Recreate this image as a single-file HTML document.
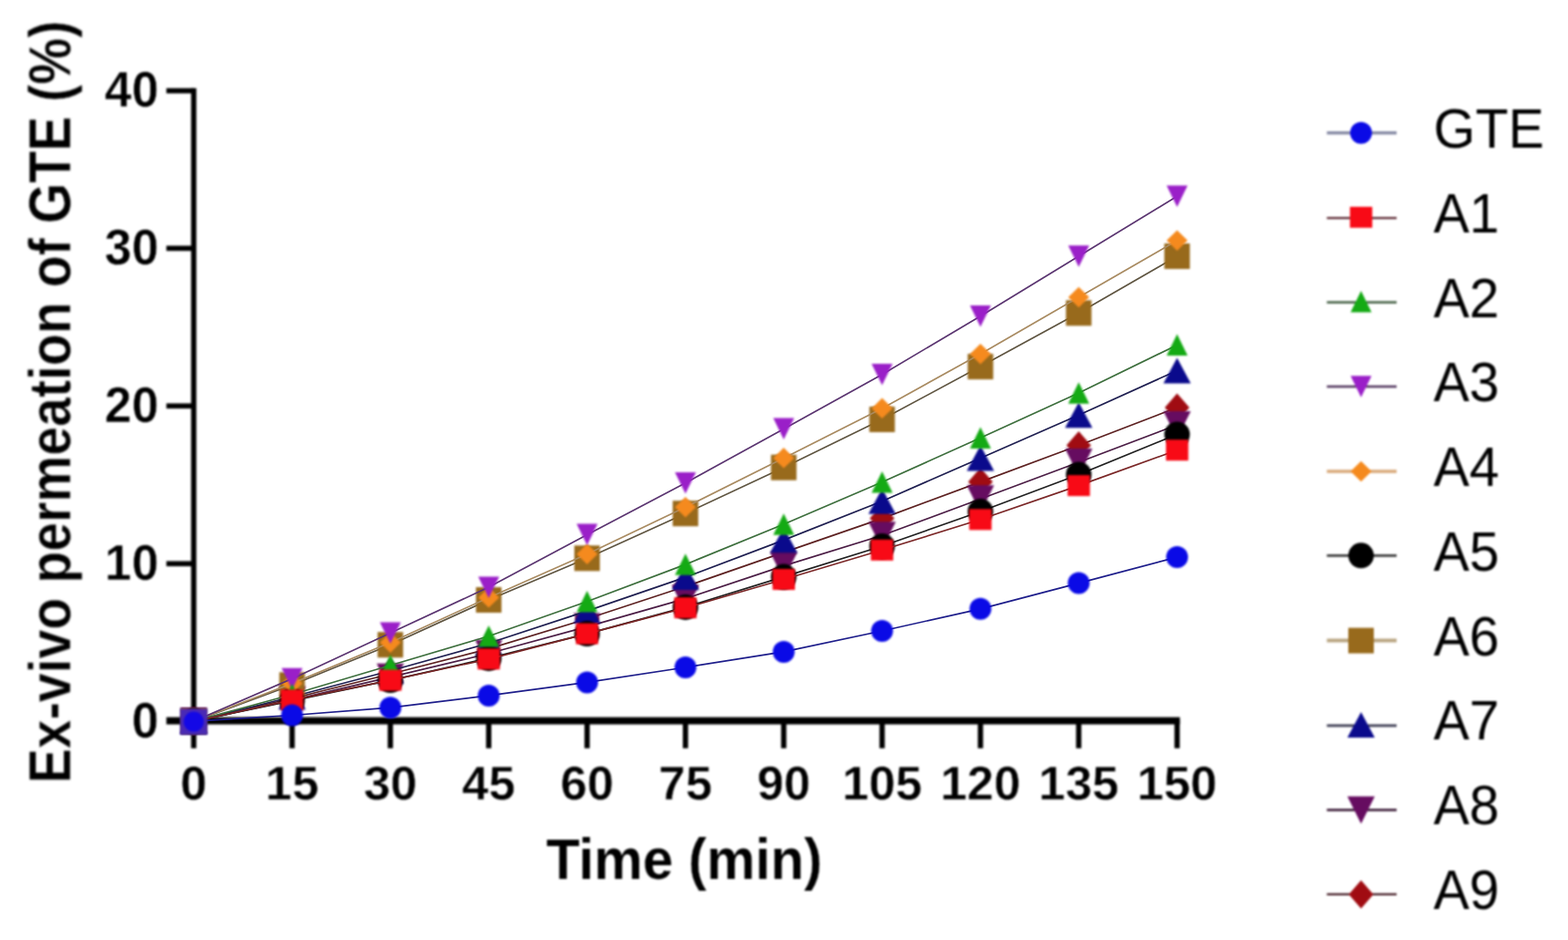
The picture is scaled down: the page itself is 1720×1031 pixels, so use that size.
<!DOCTYPE html>
<html lang="en">
<head>
<meta charset="utf-8">
<title>Ex-vivo permeation of GTE</title>
<style>
html,body{margin:0;padding:0;background:#fff;}
body{width:1720px;height:1031px;overflow:hidden;}
svg{display:block;}
.b{filter:blur(0.9px);}
.ln{fill:none;stroke-width:1.7px;filter:blur(0.45px);}
.mk{filter:blur(0.8px);}
text{font-family:"Liberation Sans",Arial,Helvetica,sans-serif;fill:#000;}
.tick,.xtick,.title,.ytitle{font-weight:bold;stroke:#fff;stroke-width:0.5px;stroke-linejoin:round;}
.title{stroke-width:0.2px;}
.tick{font-size:53.2px;}
.xtick{font-size:52.7px;}
.title{font-size:60.3px;}
.ytitle{font-size:61.8px;}
.leg{font-size:59px;}
</style>
</head>
<body>
<svg width="1720" height="1031" viewBox="0 0 1720 1031">
<rect width="1720" height="1031" fill="#fff"/>

<g id="axes" class="b" fill="#000">
<rect x="209.6" y="96.7" width="5.8" height="697.8"/>
<rect x="182.5" y="786.6" width="1111.8" height="7.9"/>
<rect x="182.5" y="615.4" width="30" height="5.7"/>
<rect x="182.5" y="442.4" width="30" height="5.7"/>
<rect x="182.5" y="269.5" width="30" height="5.7"/>
<rect x="182.5" y="96.7" width="30" height="5.7"/>
<rect x="209.6" y="790" width="5.8" height="30.7"/>
<rect x="317.5" y="790" width="5.8" height="30.7"/>
<rect x="425.3" y="790" width="5.8" height="30.7"/>
<rect x="533.2" y="790" width="5.8" height="30.7"/>
<rect x="641.1" y="790" width="5.8" height="30.7"/>
<rect x="749" y="790" width="5.8" height="30.7"/>
<rect x="856.8" y="790" width="5.8" height="30.7"/>
<rect x="964.7" y="790" width="5.8" height="30.7"/>
<rect x="1072.6" y="790" width="5.8" height="30.7"/>
<rect x="1180.4" y="790" width="5.8" height="30.7"/>
<rect x="1288.3" y="790" width="5.8" height="30.7"/>
</g>
<g id="labels" class="b">
<g id="yticks">
<text class="tick" transform="translate(174 808.7) scale(1 1.03)" text-anchor="end">0</text>
<text class="tick" transform="translate(174 635.8) scale(1 1.03)" text-anchor="end">10</text>
<text class="tick" transform="translate(174 462.9) scale(1 1.03)" text-anchor="end">20</text>
<text class="tick" transform="translate(174 290) scale(1 1.03)" text-anchor="end">30</text>
<text class="tick" transform="translate(174 117.1) scale(1 1.03)" text-anchor="end">40</text>
</g>
<g id="xticks">
<text class="xtick" transform="translate(212.5 877.2)" text-anchor="middle">0</text>
<text class="xtick" transform="translate(320.4 877.2)" text-anchor="middle">15</text>
<text class="xtick" transform="translate(428.2 877.2)" text-anchor="middle">30</text>
<text class="xtick" transform="translate(536.1 877.2)" text-anchor="middle">45</text>
<text class="xtick" transform="translate(644 877.2)" text-anchor="middle">60</text>
<text class="xtick" transform="translate(751.9 877.2)" text-anchor="middle">75</text>
<text class="xtick" transform="translate(859.7 877.2)" text-anchor="middle">90</text>
<text class="xtick" transform="translate(967.6 877.2)" text-anchor="middle">105</text>
<text class="xtick" transform="translate(1075.5 877.2)" text-anchor="middle">120</text>
<text class="xtick" transform="translate(1183.3 877.2)" text-anchor="middle">135</text>
<text class="xtick" transform="translate(1291.2 877.2)" text-anchor="middle">150</text>
</g>
<text class="title" transform="translate(750.6 964.4) scale(0.997 1.05)" text-anchor="middle">Time (min)</text>
<text class="ytitle" transform="translate(77.6 441) rotate(-90) scale(0.9265 1.06)" text-anchor="middle">Ex-vivo permeation of GTE (%)</text>
</g>
<g id="plot">
<polyline class="ln" points="212.5,791.1 320.4,766 428.2,739.2 536.1,711.6 644,678.7 751.9,643.3 859.7,605.9 967.6,568.6 1075.5,528.6 1183.3,488.5 1291.2,447" stroke="#5c2020"/>
<g class="mk">
<polygon points="212.5,775.6 226,791.1 212.5,806.6 199,791.1" fill="#a00c12"/>
<polygon points="320.4,750.5 333.9,766 320.4,781.5 306.9,766" fill="#a00c12"/>
<polygon points="428.2,723.7 441.7,739.2 428.2,754.7 414.7,739.2" fill="#a00c12"/>
<polygon points="536.1,696.1 549.6,711.6 536.1,727.1 522.6,711.6" fill="#a00c12"/>
<polygon points="644,663.2 657.5,678.7 644,694.2 630.5,678.7" fill="#a00c12"/>
<polygon points="751.9,627.8 765.4,643.3 751.9,658.8 738.4,643.3" fill="#a00c12"/>
<polygon points="859.7,590.4 873.2,605.9 859.7,621.4 846.2,605.9" fill="#a00c12"/>
<polygon points="967.6,553.1 981.1,568.6 967.6,584.1 954.1,568.6" fill="#a00c12"/>
<polygon points="1075.5,513.1 1089,528.6 1075.5,544.1 1062,528.6" fill="#a00c12"/>
<polygon points="1183.3,473 1196.8,488.5 1183.3,504 1169.8,488.5" fill="#a00c12"/>
<polygon points="1291.2,431.5 1304.7,447 1291.2,462.5 1277.7,447" fill="#a00c12"/>
</g>
<polyline class="ln" points="212.5,791.1 320.4,767.8 428.2,742.7 536.1,716.8 644,687.4 751.9,656.6 859.7,620.6 967.6,587.3 1075.5,547.3 1183.3,507 1291.2,466" stroke="#4a1c44"/>
<g class="mk">
<polygon points="197.5,776.1 227.5,776.1 212.5,806.1" fill="#660c60"/>
<polygon points="305.4,752.8 335.4,752.8 320.4,782.8" fill="#660c60"/>
<polygon points="413.2,727.7 443.2,727.7 428.2,757.7" fill="#660c60"/>
<polygon points="521.1,701.8 551.1,701.8 536.1,731.8" fill="#660c60"/>
<polygon points="629,672.4 659,672.4 644,702.4" fill="#660c60"/>
<polygon points="736.9,641.6 766.9,641.6 751.9,671.6" fill="#660c60"/>
<polygon points="844.7,605.6 874.7,605.6 859.7,635.6" fill="#660c60"/>
<polygon points="952.6,572.3 982.6,572.3 967.6,602.3" fill="#660c60"/>
<polygon points="1060.5,532.3 1090.5,532.3 1075.5,562.3" fill="#660c60"/>
<polygon points="1168.3,492 1198.3,492 1183.3,522" fill="#660c60"/>
<polygon points="1276.2,451 1306.2,451 1291.2,481" fill="#660c60"/>
</g>
<polyline class="ln" points="212.5,791.1 320.4,764.3 428.2,735.8 536.1,705.5 644,670.1 751.9,633.1 859.7,592.4 967.6,549.7 1075.5,502.5 1183.3,455.3 1291.2,406.4" stroke="#1e1e50"/>
<g class="mk">
<polygon points="212.5,777.1 227.5,805.1 197.5,805.1" fill="#0a0a8c"/>
<polygon points="320.4,750.3 335.4,778.3 305.4,778.3" fill="#0a0a8c"/>
<polygon points="428.2,721.8 443.2,749.8 413.2,749.8" fill="#0a0a8c"/>
<polygon points="536.1,691.5 551.1,719.5 521.1,719.5" fill="#0a0a8c"/>
<polygon points="644,656.1 659,684.1 629,684.1" fill="#0a0a8c"/>
<polygon points="751.9,619.1 766.9,647.1 736.9,647.1" fill="#0a0a8c"/>
<polygon points="859.7,578.4 874.7,606.4 844.7,606.4" fill="#0a0a8c"/>
<polygon points="967.6,535.7 982.6,563.7 952.6,563.7" fill="#0a0a8c"/>
<polygon points="1075.5,488.5 1090.5,516.5 1060.5,516.5" fill="#0a0a8c"/>
<polygon points="1183.3,441.3 1198.3,469.3 1168.3,469.3" fill="#0a0a8c"/>
<polygon points="1291.2,392.4 1306.2,420.4 1276.2,420.4" fill="#0a0a8c"/>
</g>
<polyline class="ln" points="212.5,791.1 320.4,751.3 428.2,707.2 536.1,658 644,612.3 751.9,563.2 859.7,512.7 967.6,460 1075.5,402.1 1183.3,343.3 1291.2,281" stroke="#5e5440"/>
<g class="mk">
<rect x="198.5" y="777.1" width="28" height="28" fill="#986a1c"/>
<rect x="306.4" y="737.3" width="28" height="28" fill="#986a1c"/>
<rect x="414.2" y="693.2" width="28" height="28" fill="#986a1c"/>
<rect x="522.1" y="644" width="28" height="28" fill="#986a1c"/>
<rect x="630" y="598.3" width="28" height="28" fill="#986a1c"/>
<rect x="737.9" y="549.2" width="28" height="28" fill="#986a1c"/>
<rect x="845.7" y="498.7" width="28" height="28" fill="#986a1c"/>
<rect x="953.6" y="446" width="28" height="28" fill="#986a1c"/>
<rect x="1061.5" y="388.1" width="28" height="28" fill="#986a1c"/>
<rect x="1169.3" y="329.3" width="28" height="28" fill="#986a1c"/>
<rect x="1277.2" y="267" width="28" height="28" fill="#986a1c"/>
</g>
<polyline class="ln" points="212.5,791.1 320.4,768.6 428.2,746.1 536.1,721.9 644,695.1 751.9,665.9 859.7,632.6 967.6,599 1075.5,561 1183.3,520.5 1291.2,476.4" stroke="#202020"/>
<g class="mk">
<circle cx="212.5" cy="791.1" r="14" fill="#000000"/>
<circle cx="320.4" cy="768.6" r="14" fill="#000000"/>
<circle cx="428.2" cy="746.1" r="14" fill="#000000"/>
<circle cx="536.1" cy="721.9" r="14" fill="#000000"/>
<circle cx="644" cy="695.1" r="14" fill="#000000"/>
<circle cx="751.9" cy="665.9" r="14" fill="#000000"/>
<circle cx="859.7" cy="632.6" r="14" fill="#000000"/>
<circle cx="967.6" cy="599" r="14" fill="#000000"/>
<circle cx="1075.5" cy="561" r="14" fill="#000000"/>
<circle cx="1183.3" cy="520.5" r="14" fill="#000000"/>
<circle cx="1291.2" cy="476.4" r="14" fill="#000000"/>
</g>
<polyline class="ln" points="212.5,791.1 320.4,749.6 428.2,704.7 536.1,655.4 644,607.8 751.9,556.3 859.7,502.4 967.6,447.9 1075.5,388.2 1183.3,326 1291.2,263.8" stroke="#a88a60"/>
<g class="mk">
<polygon points="212.5,779.9 224,791.1 212.5,802.4 201,791.1" fill="#f58a1e"/>
<polygon points="320.4,738.4 331.9,749.6 320.4,760.9 308.9,749.6" fill="#f58a1e"/>
<polygon points="428.2,693.4 439.7,704.7 428.2,715.9 416.7,704.7" fill="#f58a1e"/>
<polygon points="536.1,644.1 547.6,655.4 536.1,666.6 524.6,655.4" fill="#f58a1e"/>
<polygon points="644,596.6 655.5,607.8 644,619.1 632.5,607.8" fill="#f58a1e"/>
<polygon points="751.9,545.1 763.4,556.3 751.9,567.6 740.4,556.3" fill="#f58a1e"/>
<polygon points="859.7,491.1 871.2,502.4 859.7,513.6 848.2,502.4" fill="#f58a1e"/>
<polygon points="967.6,436.6 979.1,447.9 967.6,459.1 956.1,447.9" fill="#f58a1e"/>
<polygon points="1075.5,377 1087,388.2 1075.5,399.5 1064,388.2" fill="#f58a1e"/>
<polygon points="1183.3,314.7 1194.8,326 1183.3,337.2 1171.8,326" fill="#f58a1e"/>
<polygon points="1291.2,252.5 1302.7,263.8 1291.2,275 1279.7,263.8" fill="#f58a1e"/>
</g>
<polyline class="ln" points="212.5,791.1 320.4,744.4 428.2,694.3 536.1,644.1 644,586.4 751.9,529.7 859.7,470.4 967.6,410.7 1075.5,346.7 1183.3,281 1291.2,215.3" stroke="#5a3470"/>
<g class="mk">
<polygon points="201,779.4 224,779.4 212.5,802.9" fill="#9a1fc8"/>
<polygon points="308.9,732.7 331.9,732.7 320.4,756.2" fill="#9a1fc8"/>
<polygon points="416.7,682.5 439.7,682.5 428.2,706" fill="#9a1fc8"/>
<polygon points="524.6,632.4 547.6,632.4 536.1,655.9" fill="#9a1fc8"/>
<polygon points="632.5,574.6 655.5,574.6 644,598.1" fill="#9a1fc8"/>
<polygon points="740.4,517.9 763.4,517.9 751.9,541.4" fill="#9a1fc8"/>
<polygon points="848.2,458.6 871.2,458.6 859.7,482.1" fill="#9a1fc8"/>
<polygon points="956.1,399 979.1,399 967.6,422.5" fill="#9a1fc8"/>
<polygon points="1064,335 1087,335 1075.5,358.5" fill="#9a1fc8"/>
<polygon points="1171.8,269.3 1194.8,269.3 1183.3,292.8" fill="#9a1fc8"/>
<polygon points="1279.7,203.6 1302.7,203.6 1291.2,227.1" fill="#9a1fc8"/>
</g>
<polyline class="ln" points="212.5,791.1 320.4,761.7 428.2,729.7 536.1,697.7 644,659.7 751.9,619.1 859.7,575 967.6,528.8 1075.5,480.2 1183.3,430.9 1291.2,378.4" stroke="#3c6e3c"/>
<g class="mk">
<polygon points="212.5,779.4 224,802.9 201,802.9" fill="#14aa14"/>
<polygon points="320.4,750 331.9,773.5 308.9,773.5" fill="#14aa14"/>
<polygon points="428.2,718 439.7,741.5 416.7,741.5" fill="#14aa14"/>
<polygon points="536.1,686 547.6,709.5 524.6,709.5" fill="#14aa14"/>
<polygon points="644,647.9 655.5,671.4 632.5,671.4" fill="#14aa14"/>
<polygon points="751.9,607.3 763.4,630.8 740.4,630.8" fill="#14aa14"/>
<polygon points="859.7,563.2 871.2,586.7 848.2,586.7" fill="#14aa14"/>
<polygon points="967.6,517.1 979.1,540.6 956.1,540.6" fill="#14aa14"/>
<polygon points="1075.5,468.5 1087,492 1064,492" fill="#14aa14"/>
<polygon points="1183.3,419.2 1194.8,442.7 1171.8,442.7" fill="#14aa14"/>
<polygon points="1291.2,366.6 1302.7,390.1 1279.7,390.1" fill="#14aa14"/>
</g>
<polyline class="ln" points="212.5,791.1 320.4,767.8 428.2,746.1 536.1,722.8 644,695.1 751.9,666.6 859.7,635.5 967.6,603.3 1075.5,569.8 1183.3,532.6 1291.2,493.7" stroke="#7a2626"/>
<g class="mk">
<rect x="200.2" y="779.6" width="24.5" height="23" fill="#f80a16"/>
<rect x="308.1" y="756.3" width="24.5" height="23" fill="#f80a16"/>
<rect x="416" y="734.6" width="24.5" height="23" fill="#f80a16"/>
<rect x="523.9" y="711.3" width="24.5" height="23" fill="#f80a16"/>
<rect x="631.7" y="683.6" width="24.5" height="23" fill="#f80a16"/>
<rect x="739.6" y="655.1" width="24.5" height="23" fill="#f80a16"/>
<rect x="847.5" y="624" width="24.5" height="23" fill="#f80a16"/>
<rect x="955.3" y="591.8" width="24.5" height="23" fill="#f80a16"/>
<rect x="1063.2" y="558.3" width="24.5" height="23" fill="#f80a16"/>
<rect x="1171.1" y="521.1" width="24.5" height="23" fill="#f80a16"/>
<rect x="1279" y="482.2" width="24.5" height="23" fill="#f80a16"/>
</g>
<polyline class="ln" points="212.5,791.1 320.4,784.5 428.2,776.2 536.1,762.9 644,748.4 751.9,732 859.7,714.9 967.6,692 1075.5,667.8 1183.3,639.6 1291.2,611.1" stroke="#1c1c8a"/>
<g class="mk">
<circle cx="212.5" cy="791.1" r="12" fill="#0a0ae6"/>
<circle cx="320.4" cy="784.5" r="12" fill="#0a0ae6"/>
<circle cx="428.2" cy="776.2" r="12" fill="#0a0ae6"/>
<circle cx="536.1" cy="762.9" r="12" fill="#0a0ae6"/>
<circle cx="644" cy="748.4" r="12" fill="#0a0ae6"/>
<circle cx="751.9" cy="732" r="12" fill="#0a0ae6"/>
<circle cx="859.7" cy="714.9" r="12" fill="#0a0ae6"/>
<circle cx="967.6" cy="692" r="12" fill="#0a0ae6"/>
<circle cx="1075.5" cy="667.8" r="12" fill="#0a0ae6"/>
<circle cx="1183.3" cy="639.6" r="12" fill="#0a0ae6"/>
<circle cx="1291.2" cy="611.1" r="12" fill="#0a0ae6"/>
</g>
<g class="mk">
<rect x="197.5" y="777.5" width="30" height="28.4" fill="#4a2ab4"/>
<circle cx="212.5" cy="791.5" r="11" fill="#1408e6"/>
</g>
</g>
<g id="legend" class="b">
<line x1="1455.5" y1="145.8" x2="1532" y2="145.8" stroke="#878ca6" stroke-width="3.6"/>
<circle cx="1493" cy="145.8" r="12" fill="#0a0ae6"/>
<text class="leg" transform="translate(1572.5 162.3) scale(1 1.045)">GTE</text>
<line x1="1455.5" y1="239.2" x2="1532" y2="239.2" stroke="#5a2630" stroke-width="2.2"/>
<rect x="1480.8" y="226.8" width="24.5" height="23" fill="#f80a16"/>
<text class="leg" transform="translate(1572.5 255) scale(1 1.045)">A1</text>
<line x1="1455.5" y1="331.6" x2="1532" y2="331.6" stroke="#4e684e" stroke-width="2.6"/>
<polygon points="1493,319.1 1504.5,342.6 1481.5,342.6" fill="#14aa14"/>
<text class="leg" transform="translate(1572.5 347.7) scale(1 1.045)">A2</text>
<line x1="1455.5" y1="424" x2="1532" y2="424" stroke="#4c3058" stroke-width="2.6"/>
<polygon points="1481.5,412.2 1504.5,412.2 1493,435.8" fill="#9a1fc8"/>
<text class="leg" transform="translate(1572.5 440.4) scale(1 1.045)">A3</text>
<line x1="1455.5" y1="517" x2="1532" y2="517" stroke="#d8a878" stroke-width="3.4"/>
<polygon points="1493,505.8 1504.5,517 1493,528.2 1481.5,517" fill="#f58a1e"/>
<text class="leg" transform="translate(1572.5 533.1) scale(1 1.045)">A4</text>
<line x1="1455.5" y1="609.3" x2="1532" y2="609.3" stroke="#3a3a3a" stroke-width="2.8"/>
<circle cx="1493" cy="609.3" r="14" fill="#000000"/>
<text class="leg" transform="translate(1572.5 625.8) scale(1 1.045)">A5</text>
<line x1="1455.5" y1="702.6" x2="1532" y2="702.6" stroke="#b9a582" stroke-width="4.0"/>
<rect x="1479" y="688.6" width="28" height="28" fill="#986a1c"/>
<text class="leg" transform="translate(1572.5 718.5) scale(1 1.045)">A6</text>
<line x1="1455.5" y1="795.8" x2="1532" y2="795.8" stroke="#3a3a50" stroke-width="2.8"/>
<polygon points="1493,781 1508,809 1478,809" fill="#0a0a8c"/>
<text class="leg" transform="translate(1572.5 811.2) scale(1 1.045)">A7</text>
<line x1="1455.5" y1="888.4" x2="1532" y2="888.4" stroke="#40203c" stroke-width="2.6"/>
<polygon points="1478,873.4 1508,873.4 1493,903.4" fill="#660c60"/>
<text class="leg" transform="translate(1572.5 903.9) scale(1 1.045)">A8</text>
<line x1="1455.5" y1="980.9" x2="1532" y2="980.9" stroke="#401820" stroke-width="2.4"/>
<polygon points="1493,965.4 1506.5,980.9 1493,996.4 1479.5,980.9" fill="#a00c12"/>
<text class="leg" transform="translate(1572.5 996.6) scale(1 1.045)">A9</text>
</g>
</svg>
</body>
</html>
